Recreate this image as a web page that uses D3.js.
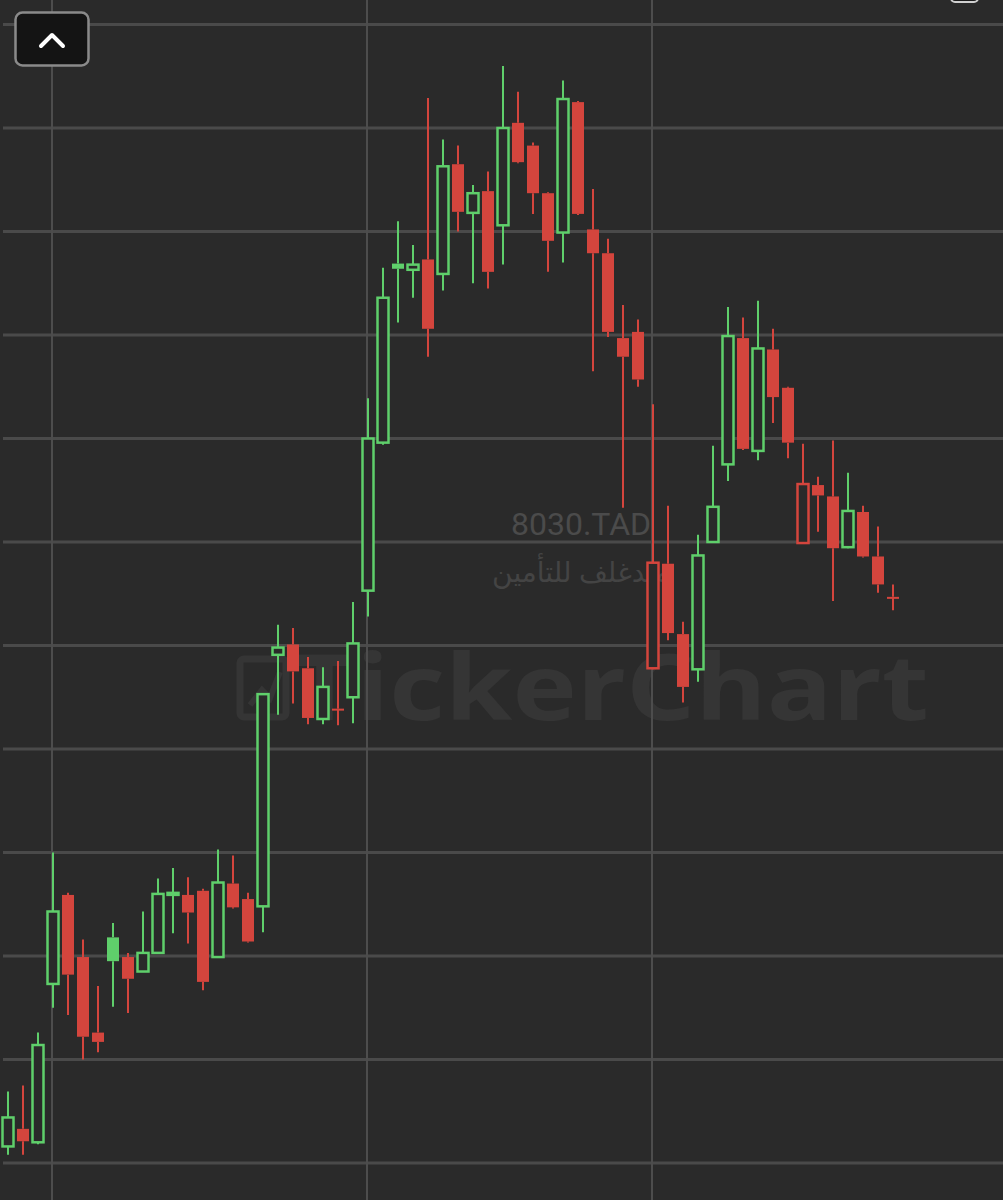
<!DOCTYPE html>
<html>
<head>
<meta charset="utf-8">
<script src="https://cdn.jsdelivr.net/npm/d3@7"></script>
<style>
  html, body { margin: 0; padding: 0; background: #2a2a2a; }
  svg { display: block; }
</style>
</head>
<body>
<div id="chart"></div>
<script>
// ==================== DATA ====================
const opens  = [14.16, 14.33, 14.20, 15.73, 16.59, 15.99, 15.26, 16.18, 15.99, 15.85,
                16.03, 16.60, 16.59, 16.63, 15.99, 16.70, 16.55, 16.48, 18.91, 19.01,
                18.78, 18.29, 18.39, 18.50, 19.53, 20.96, 22.69, 22.63, 22.73, 22.59,
                23.65, 23.18, 23.39, 23.06, 24.05, 23.83, 23.37, 22.99, 24.25, 23.02,
                22.79, 21.97, 22.03, 18.78, 19.79, 19.11, 18.77, 20.00, 20.75, 21.97,
                20.88, 21.86, 21.49, 19.99, 20.55, 20.44, 19.95, 20.29, 19.86, 19.47];
const highs  = [14.69, 14.75, 15.26, 17.00, 16.61, 16.16, 15.71, 16.32, 16.03, 16.43,
                16.75, 16.85, 16.76, 16.65, 17.03, 16.97, 16.61, 18.54, 19.20, 19.17,
                18.89, 18.79, 18.85, 19.42, 21.39, 22.65, 23.10, 22.87, 24.29, 23.89,
                23.83, 23.45, 23.58, 24.60, 24.35, 23.86, 23.38, 24.46, 24.26, 23.41,
                22.93, 22.29, 22.15, 21.33, 20.35, 19.23, 20.07, 20.93, 22.27, 22.17,
                22.33, 22.06, 21.50, 20.95, 20.63, 20.98, 20.67, 20.35, 20.15, 19.59];
const lows   = [14.08, 14.08, 14.18, 15.50, 15.43, 15.00, 15.07, 15.51, 15.45, 15.85,
                16.03, 16.22, 16.12, 15.67, 15.98, 16.46, 16.13, 16.23, 18.33, 18.44,
                18.24, 18.24, 18.23, 18.25, 19.28, 20.94, 22.12, 22.36, 21.79, 22.43,
                23.00, 22.50, 22.45, 22.68, 23.66, 23.17, 22.61, 22.70, 23.16, 21.65,
                21.98, 20.33, 21.50, 18.77, 19.05, 18.45, 18.65, 19.99, 20.59, 20.89,
                20.79, 21.15, 20.81, 19.98, 20.10, 19.43, 19.94, 19.85, 19.51, 19.34];
const closes = [14.44, 14.21, 15.14, 16.43, 15.82, 15.22, 15.17, 15.95, 15.78, 16.03,
                16.60, 16.61, 16.42, 15.75, 16.71, 16.47, 16.14, 18.53, 18.98, 18.75,
                18.30, 18.60, 18.38, 19.02, 21.00, 22.36, 22.64, 22.68, 22.06, 23.63,
                23.19, 23.37, 22.61, 24.00, 23.67, 23.37, 22.91, 24.28, 23.17, 22.79,
                22.03, 21.79, 21.57, 19.80, 19.12, 18.60, 19.87, 20.34, 21.99, 20.90,
                21.87, 21.40, 20.96, 20.56, 20.45, 19.94, 20.30, 19.86, 19.59, 19.46];

const priceTicks = [14, 15, 16, 17, 18, 19, 20, 21, 22, 23, 24, 25];
const monthStarts = [3, 24, 43]; // candle index where a new period begins

const symbol = "8030.TAD";
const companyName = "ميدغلف للتأمين";
const watermark = "TickerChart";

// ==================== SETUP ====================
const width = 1003, height = 1200;
const upColor = "#5fcf6b", downColor = "#d4453d";

const candles = opens.map((o, i) => ({
  i,
  open: o,
  high: highs[i],
  low: lows[i],
  close: closes[i],
  prev: i > 0 ? closes[i - 1] : o,
}));

const svg = d3
  .select("#chart")
  .append("svg")
  .attr("width", width)
  .attr("height", height);

svg.append("rect").attr("width", width).attr("height", height).attr("fill", "#2a2a2a");

const x = d3.scaleLinear().domain([0, candles.length - 1]).range([8, 893]);
const y = d3.scaleLinear().domain([14, 25]).range([1163, 24.5]);

// ==================== WATERMARK ====================
const wm = svg.append("g").attr("fill", "#353535");

wm.append("rect")
  .attr("x", 240).attr("y", 659)
  .attr("width", 46).attr("height", 58)
  .attr("rx", 4)
  .attr("fill", "none")
  .attr("stroke", "#353535")
  .attr("stroke-width", 7);
wm.append("path")
  .attr("d", "M250,705 L262,690 L270,698 L280,672")
  .attr("fill", "none")
  .attr("stroke", "#353535")
  .attr("stroke-width", 6);

wm.append("text")
  .attr("x", 293)
  .attr("y", 720)
  .attr("font-family", "'Open Sans', 'DejaVu Sans', sans-serif")
  .attr("font-weight", "bold")
  .attr("font-size", 92)
  .attr("textLength", 636)
  .attr("lengthAdjust", "spacingAndGlyphs")
  .text(watermark);

svg.append("text")
  .attr("x", 581)
  .attr("y", 535)
  .attr("text-anchor", "middle")
  .attr("font-family", "Roboto, 'Noto Sans', sans-serif")
  .attr("font-size", 32)
  .attr("fill", "#4b4b4b")
  .text(symbol);

svg.append("text")
  .attr("x", 581)
  .attr("y", 582)
  .attr("text-anchor", "middle")
  .attr("font-family", "'Noto Sans', 'DejaVu Sans', sans-serif")
  .attr("font-size", 28)
  .attr("fill", "#444")
  .attr("direction", "rtl")
  .text(companyName);

// ==================== GRID ====================
svg.append("g")
  .selectAll("line")
  .data(priceTicks)
  .join("line")
  .attr("x1", 3)
  .attr("x2", width)
  .attr("y1", (d) => y(d))
  .attr("y2", (d) => y(d))
  .attr("stroke", "#4a4a4a")
  .attr("stroke-width", 3);

svg.append("g")
  .selectAll("line")
  .data(monthStarts)
  .join("line")
  .attr("x1", (d) => x(d) - 1)
  .attr("x2", (d) => x(d) - 1)
  .attr("y1", 0)
  .attr("y2", height)
  .attr("stroke", "#4d4d4d")
  .attr("stroke-width", 2);

// ==================== CANDLES ====================
const colorOf = (d) => (d.close >= d.prev ? upColor : downColor);
const hollow = (d) => d.close >= d.open;

const g = svg.append("g");
const bodyW = 11;

const c = g.selectAll("g.candle").data(candles).join("g").attr("class", "candle");

// wick above the body
c.append("line")
  .attr("x1", (d) => x(d.i))
  .attr("x2", (d) => x(d.i))
  .attr("y1", (d) => y(d.high))
  .attr("y2", (d) => y(Math.max(d.open, d.close)))
  .attr("stroke", colorOf)
  .attr("stroke-width", 2);

// wick below the body
c.append("line")
  .attr("x1", (d) => x(d.i))
  .attr("x2", (d) => x(d.i))
  .attr("y1", (d) => y(Math.min(d.open, d.close)))
  .attr("y2", (d) => y(d.low))
  .attr("stroke", colorOf)
  .attr("stroke-width", 2);

c.append("rect")
  .attr("x", (d) => x(d.i) - (hollow(d) ? bodyW / 2 : 6))
  .attr("width", (d) => (hollow(d) ? bodyW : 12))
  .attr("y", (d) => y(Math.max(d.open, d.close)))
  .attr("height", (d) => Math.max(2, Math.abs(y(d.open) - y(d.close))))
  .attr("fill", (d) => (hollow(d) ? "#2a2a2a" : colorOf(d)))
  .attr("stroke", (d) => (hollow(d) ? colorOf(d) : "none"))
  .attr("stroke-width", 2.5);

// ==================== BUTTONS ====================
svg.append("rect")
  .attr("x", 15.5).attr("y", 12.5)
  .attr("width", 73).attr("height", 53)
  .attr("rx", 7)
  .attr("fill", "#141414")
  .attr("stroke", "#8a8a8a")
  .attr("stroke-width", 2.5);

svg.append("path")
  .attr("d", "M41,46 L52,35 L63,46")
  .attr("fill", "none")
  .attr("stroke", "#fff")
  .attr("stroke-width", 4)
  .attr("stroke-linecap", "round")
  .attr("stroke-linejoin", "round");

svg.append("rect")
  .attr("x", 951).attr("y", -12)
  .attr("width", 27).attr("height", 14)
  .attr("rx", 4)
  .attr("fill", "#1a1a1a")
  .attr("stroke", "#d0d0d0")
  .attr("stroke-width", 2);
</script>
</body>
</html>
